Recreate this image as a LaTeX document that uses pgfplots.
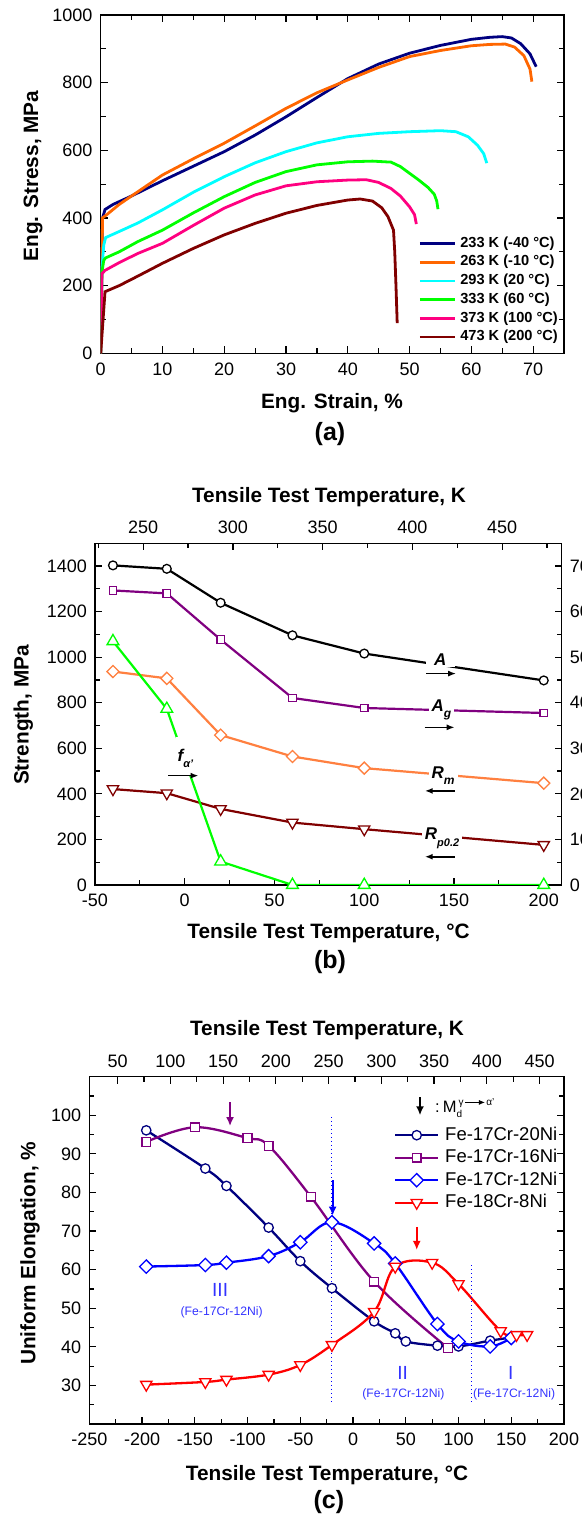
\documentclass[border=0pt]{standalone}
\usepackage{pgfplots}
\pgfplotsset{compat=1.18}
\usepackage{fontspec}
\setmainfont{Liberation Sans}
\usetikzlibrary{arrows.meta}
\definecolor{cNavy}{RGB}{0,0,128}
\definecolor{cOrange}{RGB}{255,102,0}
\definecolor{cCyan}{RGB}{0,255,255}
\definecolor{cGreen}{RGB}{0,255,0}
\definecolor{cPink}{RGB}{255,0,128}
\definecolor{cDark}{RGB}{128,0,0}
\definecolor{cPurple}{RGB}{128,0,128}
\definecolor{cLOrange}{RGB}{255,128,64}
\definecolor{cBlue}{RGB}{0,0,255}
\definecolor{cRed}{RGB}{255,0,0}
\definecolor{cText}{RGB}{51,51,255}
\newcommand{\fs}[1]{\fontsize{#1}{#1}\selectfont}
\pgfplotsset{
  panel/.style={
    scale only axis, anchor=south west,
    axis line style={line width=1.4pt},
    every tick/.style={line width=1.2pt, black},
    major tick length=7pt, minor tick length=5pt,
    tick label style={font=\fs{18}},
    xticklabel style={inner xsep=0pt, inner ysep=9pt},
    yticklabel style={inner ysep=0pt, inner xsep=8pt},
    /pgf/number format/assume math mode=true,
    /pgf/number format/1000 sep={},
  },
}
\begin{document}
\begin{tikzpicture}
% ================= Panel (a) =================
\begin{axis}[panel, at={(100.7pt,1168.7pt)}, width=463.3pt, height=338.3pt,
  xmin=0, xmax=75, ymin=0, ymax=1000,
  xtick={0,10,...,70}, minor xtick={5,15,...,65},
  ytick={0,200,...,1000}, minor ytick={100,300,...,900},
  legend style={at={(0.6855,0.345)}, anchor=north west, draw=none, fill=none,
    inner sep=0pt, row sep=5.2pt, column sep=4pt, font=\fs{14.6}\bfseries,
    nodes={inner sep=0pt, text height=10.5pt, text depth=3pt}},
  legend cell align=left,
  legend image code/.code={\draw[#1] (0pt,0pt) -- (35pt,0pt);},
  every axis plot/.append style={line width=2.8pt, no marks},
]
\addplot[cNavy] coordinates {(0,0) (0.15,200) (0.3,400) (0.7,425) (2,440) (5,465) (10,510) (15,553) (20,596) (25,645) (30,699) (35,756) (40,812) (45,855) (50,887) (55,910) (60,928) (63,934) (65,936) (66.5,932) (68,915) (69.5,885) (70.5,847)};
\addlegendentry{233 K (-40 °C)}
\addplot[cOrange] coordinates {(0,0) (0.15,200) (0.3,400) (1,410) (3,440) (5,465) (10,527) (15,575) (20,621) (25,672) (30,724) (35,770) (40,808) (45,845) (50,877) (55,895) (60,909) (63,913) (65.5,914) (67,905) (68.5,880) (69.5,840) (69.8,803)};
\addlegendentry{263 K (-10 °C)}
\addplot[cCyan] coordinates {(0,0) (0.2,250) (0.5,320) (0.8,342) (3,360) (6,385) (10,424) (15,476) (20,522) (25,563) (30,596) (35,622) (40,640) (45,650) (50,655) (55,658) (57.5,655) (59.5,640) (61,615) (62,590) (62.5,562)};
\addlegendentry{293 K (20 °C)}
\addplot[cGreen] coordinates {(0,0) (0.2,240) (0.5,275) (0.8,282) (3,300) (6,330) (10,364) (15,415) (20,463) (25,505) (30,537) (35,557) (40,566) (44,568) (47,565) (48.5,552) (50,532) (51.5,512) (53,490) (54,470) (54.4,450) (54.6,426)};
\addlegendentry{333 K (60 °C)}
\addplot[cPink] coordinates {(0,0) (0.2,235) (0.7,245) (3,268) (6,295) (10,325) (15,378) (20,429) (25,468) (30,495) (35,507) (40,512) (43,513) (45,505) (47,487) (48.5,465) (50,433) (50.8,410) (51.1,382)};
\addlegendentry{373 K (100 °C)}
\addplot[cDark] coordinates {(0,0) (0.7,182) (3,200) (6,228) (10,266) (15,310) (20,350) (25,384) (30,414) (35,437) (40,453) (42,456) (44,450) (45.5,430) (46.5,404) (47.4,364) (47.6,300) (47.8,200) (48,89)};
\addlegendentry{473 K (200 °C)}
\end{axis}

% ================= Panel (b) =================
\begin{axis}[panel, at={(95pt,637pt)}, width=466.7pt, height=341.7pt,
  xmin=-50, xmax=210, ymin=0, ymax=1500,
  xtick={-50,0,...,200}, minor xtick={-25,25,...,175},
  ytick={0,200,...,1400}, minor ytick={100,300,...,1300},
  xtick pos=left, ytick pos=left,
  every axis plot/.append style={line width=2.2pt},
]
\addplot[cLOrange, mark=square*, mark size=4.25pt, mark options={solid, fill=white, line width=1.3pt, rotate=45}] coordinates {(-40,937) (-10,907) (20,658) (60,564) (100,513) (200,447)};
\addplot[cDark, mark=triangle*, mark size=6.5pt, mark options={solid, fill=white, line width=1.3pt, rotate=180}] coordinates {(-40,421) (-10,403) (20,334) (60,274) (100,245) (200,176)};
\end{axis}
\begin{axis}[panel, at={(95pt,637pt)}, width=466.7pt, height=341.7pt,
  xmin=223.15, xmax=483.15, ymin=0, ymax=75,
  xtick={250,300,...,450}, minor xtick={225,275,...,475},
  ytick={0,10,...,70}, minor ytick={5,15,...,65},
  xtick pos=right, xticklabel pos=right, ytick pos=right, yticklabel pos=right,
  every axis plot/.append style={line width=2.2pt},
]
\addplot[black, mark=*, mark size=4.4pt, mark options={solid, fill=white, line width=1.3pt}] coordinates {(233.15,70.15) (263.15,69.4) (293.15,61.95) (333.15,54.8) (373.15,50.8) (473.15,44.9)};
\addplot[cPurple, mark=square*, mark size=3.8pt, mark options={solid, fill=white, line width=1.3pt}] coordinates {(233.15,64.65) (263.15,64.0) (293.15,53.85) (333.15,41.05) (373.15,38.85) (473.15,37.75)};
\addplot[cGreen, mark=triangle*, mark size=6.8pt, mark options={solid, fill=white, line width=1.3pt}] coordinates {(233.15,53.5) (263.15,38.65) (293.15,5.15) (333.15,0) (373.15,0) (473.15,0)};
\fill[white] (axis cs:268.5,23.9) rectangle (axis cs:277.8,32.4);
\node[font=\fs{17}\bfseries\itshape, anchor=base west, inner sep=0pt] at (axis cs:269.05,27.1) {f\raisebox{-6pt}{\fs{11}α'}};
\draw[line width=1.7pt, -{Latex[length=8pt,width=6pt]}] (axis cs:264.05,24) -- (axis cs:280.85,24);
\node[fill=white, inner xsep=8pt, inner ysep=1pt, font=\fs{17}\bfseries\itshape] at (axis cs:415.55,49.45) {A};
\draw[line width=1.7pt, -{Latex[length=8pt,width=6pt]}] (axis cs:407.75,46.4) -- (axis cs:424.35,46.4);
\node[fill=white, inner xsep=3pt, inner ysep=1pt, anchor=base west, font=\fs{17}\bfseries\itshape] at (axis cs:408.9,38.05) {A\raisebox{-6pt}{\fs{12}g}};
\draw[line width=1.7pt, -{Latex[length=8pt,width=6pt]}] (axis cs:406.85,34.6) -- (axis cs:423.55,34.6);
\node[fill=white, inner xsep=3pt, inner ysep=1pt, anchor=base west, font=\fs{17}\bfseries\itshape] at (axis cs:408.9,23.45) {R\raisebox{-6pt}{\fs{12}m}};
\draw[line width=1.7pt, -{Latex[length=8pt,width=6pt]}] (axis cs:423.55,20.65) -- (axis cs:406.85,20.65);
\node[fill=white, inner xsep=3pt, inner ysep=1pt, anchor=base west, font=\fs{17}\bfseries\itshape] at (axis cs:405.15,9.9) {R\raisebox{-7pt}{\fs{11}p0.2}};
\draw[line width=1.7pt, -{Latex[length=8pt,width=6pt]}] (axis cs:423.55,6.2) -- (axis cs:406.85,6.2);
\end{axis}

% ================= Panel (c) =================
\begin{axis}[panel, at={(89.3pt,98pt)}, width=474.7pt, height=347.3pt,
  xmin=-250, xmax=200, ymin=20, ymax=110,
  xtick={-250,-200,...,200}, minor xtick={-225,-175,...,175},
  ytick={30,40,...,100}, minor ytick={25,35,...,105},
  xtick pos=left, ytick pos=both, yticklabel pos=left,
  every axis plot/.append style={line width=2.3pt, smooth, tension=0.6},
  legend style={at={(0.6419,0.8566)}, anchor=north west, draw=none, fill=none,
    inner sep=0pt, row sep=5.5pt, column sep=6pt, font=\fs{18.5},
    nodes={inner sep=0pt, text height=13.3pt, text depth=3.7pt}},
  legend cell align=left,
  legend image code/.code={\draw[mark repeat=2,mark phase=2,#1] plot coordinates {(0pt,0pt) (21.35pt,0pt) (42.7pt,0pt)};},
]
\addplot[cNavy, mark=*, mark size=4.7pt, mark options={solid, fill=white, line width=1.3pt}] coordinates {(-196,96.1) (-140,86.2) (-120,81.7) (-80,70.9) (-50,62.2) (-20,55.2) (20,46.6) (40,43.5) (50,41.4) (80,40.3) (100,40.1) (130,41.6) (150,42.4)};
\addlegendentry{Fe-17Cr-20Ni}
\addplot[cPurple, mark=square*, mark size=4.4pt, mark options={solid, fill=white, line width=1.3pt}] coordinates {(-196,93.1) (-150,96.9) (-100,94.1) (-80,92.1) (-40,78.9) (20,56.9) (90,39.7)};
\addlegendentry{Fe-17Cr-16Ni}
\addplot[cBlue, mark=square*, mark size=4.7pt, mark options={solid, fill=white, line width=1.3pt, rotate=45}] coordinates {(-196,60.8) (-140,61.2) (-120,61.8) (-80,63.5) (-50,67.1) (-20,72.3) (20,66.8) (40,61.6) (80,45.9) (100,41.4) (130,40.1) (150,42.3)};
\addlegendentry{Fe-17Cr-12Ni}
\addplot[cRed, mark=triangle*, mark size=6.5pt, mark options={solid, fill=white, line width=1.3pt, rotate=180}] coordinates {(-196,30.2) (-140,30.9) (-120,31.5) (-80,32.8) (-50,35.3) (-20,40.5) (20,49.1) (40,60.8) (75,61.8) (100,56.3) (140,44.1) (155,43.1) (165,43.1)};
\addlegendentry{Fe-18Cr-8Ni}
\draw[cBlue, line width=1pt, dash pattern=on 1pt off 3pt] (axis cs:-20,99.6) -- (axis cs:-20,25.9);
\draw[cBlue, line width=1pt, dash pattern=on 1pt off 3pt] (axis cs:112.5,61.2) -- (axis cs:112.5,25.9);
\draw[cPurple, line width=2pt, -{Latex[length=9pt,width=8pt]}] (axis cs:-116.6,103.4) -- (axis cs:-116.6,97.2);
\draw[cBlue, line width=2pt, -{Latex[length=9pt,width=8pt]}] (axis cs:-19.3,83.2) -- (axis cs:-19.3,74);
\draw[cRed, line width=2pt, -{Latex[length=9pt,width=8pt]}] (axis cs:60.4,71.1) -- (axis cs:60.4,65.1);
\draw[black, line width=2pt, -{Latex[length=9pt,width=8pt]}] (axis cs:63.5,104.7) -- (axis cs:63.5,100);
\node[anchor=base west, inner sep=0pt, font=\fs{16.5}] at (axis cs:77.7,100.85) {:\hspace{3pt}M\rlap{\raisebox{-5pt}{\fs{10}d}}\hspace{2pt}\raisebox{7pt}{\fs{10}γ\hspace{1pt}\tikz[baseline=-2.6pt]\draw[line width=0.9pt,-{Latex[length=6pt,width=5pt]}] (0pt,0pt)--(20pt,0pt);\hspace{1pt}α'}};
\node[cText, font=\fs{19}] at (axis cs:-126,54.7) {III};
\node[cText, font=\fs{12.2}] at (axis cs:-124.5,49.0) {(Fe-17Cr-12Ni)};
\node[cText, font=\fs{19}] at (axis cs:47.1,33.2) {II};
\node[cText, font=\fs{12.2}] at (axis cs:47.7,27.6) {(Fe-17Cr-12Ni)};
\node[cText, font=\fs{19}] at (axis cs:149.5,33.2) {I};
\node[cText, font=\fs{12.2}] at (axis cs:152.7,27.6) {(Fe-17Cr-12Ni)};
\end{axis}
\begin{axis}[panel, at={(89.3pt,98pt)}, width=474.7pt, height=347.3pt,
  xmin=23.15, xmax=473.15, ymin=0, ymax=1,
  xtick={50,100,...,450}, minor xtick={75,125,...,425},
  ytick=\empty,
  xtick pos=right, xticklabel pos=right,
]
\end{axis}

% ================= Outer labels =================
\node[rotate=90, font=\fs{20.8}\bfseries] at (33pt,1346pt) {Eng. Stress, MPa};
\node[font=\fs{20.8}\bfseries] at (332pt,1119pt) {Eng. Strain, \%};
\node[font=\fs{25}\bfseries] at (330pt,1088pt) {(a)};
\node[rotate=90, font=\fs{20.8}\bfseries] at (23.3pt,807pt) {Strength, MPa};
\node[font=\fs{20.8}\bfseries] at (329pt,1025.3pt) {Tensile Test Temperature, K};
\node[font=\fs{20.8}\bfseries] at (328.5pt,589pt) {Tensile Test Temperature, °C};
\node[font=\fs{25}\bfseries] at (330pt,560pt) {(b)};
\node[rotate=90, font=\fs{20.8}\bfseries] at (30pt,268.7pt) {Uniform Elongation, \%};
\node[font=\fs{20.8}\bfseries] at (327pt,492pt) {Tensile Test Temperature, K};
\node[font=\fs{20.8}\bfseries] at (327pt,47pt) {Tensile Test Temperature, °C};
\node[font=\fs{25}\bfseries] at (328.8pt,20.3pt) {(c)};
\pgfresetboundingbox
\useasboundingbox (0pt,0pt) rectangle (581pt,1522pt);
\end{tikzpicture}
\end{document}
